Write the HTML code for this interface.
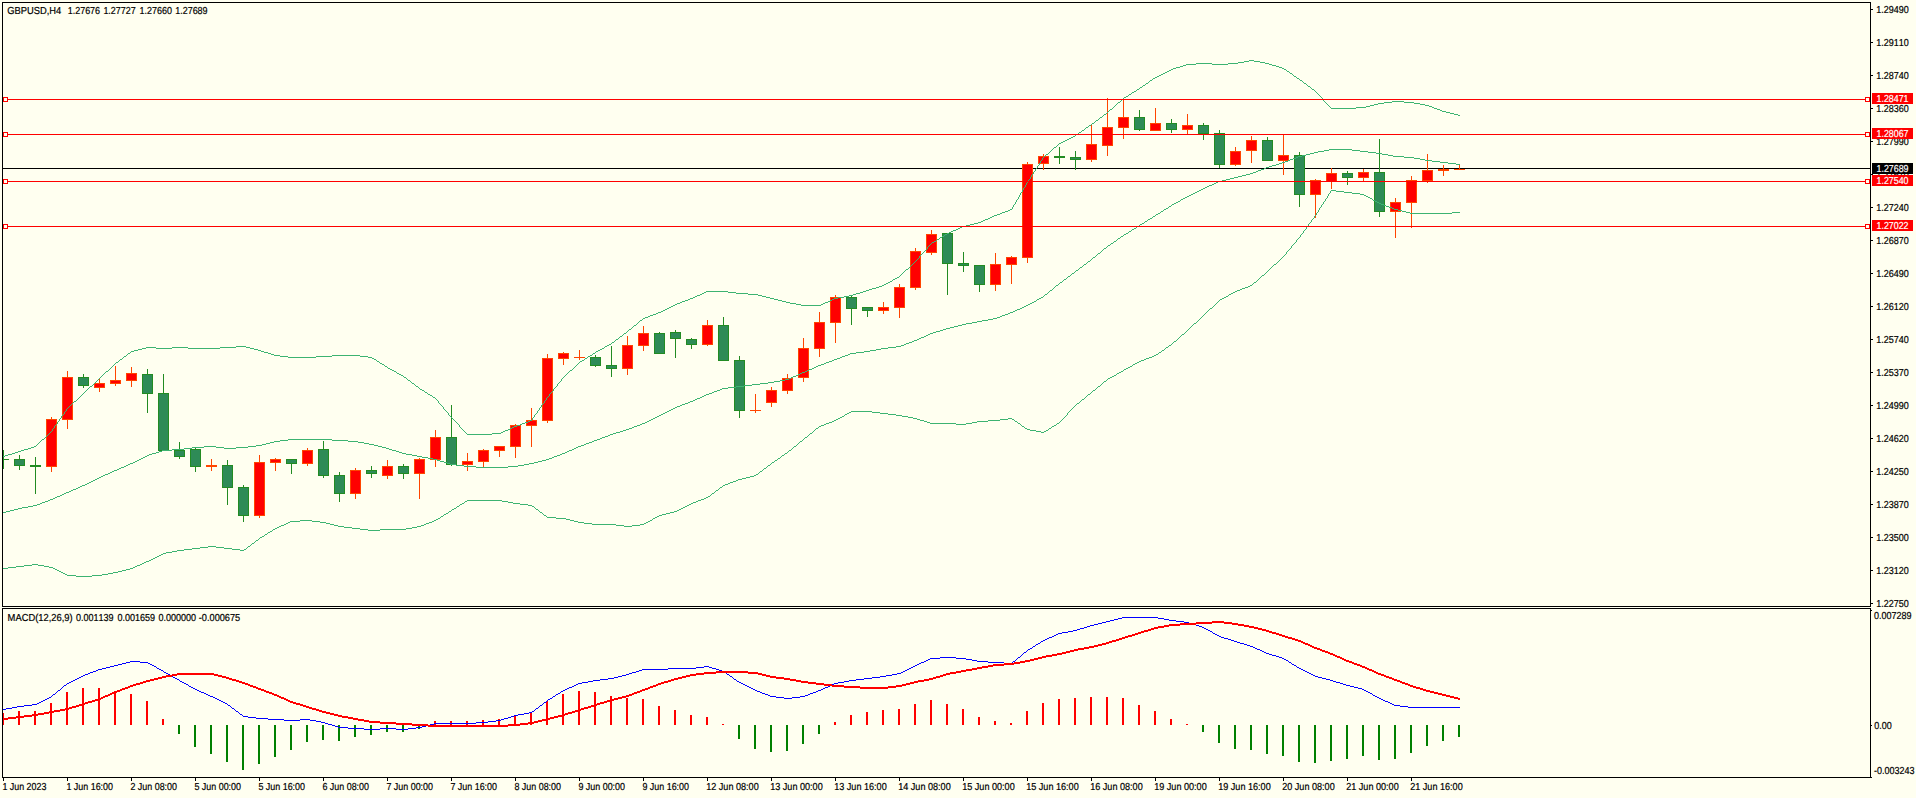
<!DOCTYPE html>
<html><head><meta charset="utf-8"><title>GBPUSD,H4</title>
<style>html,body{margin:0;padding:0;background:#FFFFF0;overflow:hidden}svg text{font-kerning:none;text-rendering:geometricPrecision}</style></head>
<body>
<svg width="1916" height="798" viewBox="0 0 1916 798" style="display:block;font-family:'Liberation Sans', Arial, sans-serif;font-size:10.1px">
<rect width="1916" height="798" fill="#FFFFF0"/>
<g shape-rendering="crispEdges">
<rect x="2" y="2" width="1869" height="1" fill="#000"/>
<rect x="2" y="2" width="1" height="605" fill="#000"/>
<rect x="2" y="606" width="1869" height="1" fill="#000"/>
<rect x="1870" y="2" width="1" height="605" fill="#000"/>
<rect x="1870" y="608" width="1" height="170" fill="#000"/>
<rect x="2" y="608" width="1869" height="1" fill="#000"/>
<rect x="2" y="608" width="1" height="170" fill="#000"/>
<rect x="2" y="777" width="1870" height="1" fill="#000"/>
<rect x="1871" y="9" width="2" height="1" fill="#000"/>
<rect x="1871" y="42" width="2" height="1" fill="#000"/>
<rect x="1871" y="75" width="2" height="1" fill="#000"/>
<rect x="1871" y="108" width="2" height="1" fill="#000"/>
<rect x="1871" y="141" width="2" height="1" fill="#000"/>
<rect x="1871" y="174" width="2" height="1" fill="#000"/>
<rect x="1871" y="207" width="2" height="1" fill="#000"/>
<rect x="1871" y="240" width="2" height="1" fill="#000"/>
<rect x="1871" y="273" width="2" height="1" fill="#000"/>
<rect x="1871" y="306" width="2" height="1" fill="#000"/>
<rect x="1871" y="339" width="2" height="1" fill="#000"/>
<rect x="1871" y="372" width="2" height="1" fill="#000"/>
<rect x="1871" y="405" width="2" height="1" fill="#000"/>
<rect x="1871" y="438" width="2" height="1" fill="#000"/>
<rect x="1871" y="471" width="2" height="1" fill="#000"/>
<rect x="1871" y="504" width="2" height="1" fill="#000"/>
<rect x="1871" y="537" width="2" height="1" fill="#000"/>
<rect x="1871" y="570" width="2" height="1" fill="#000"/>
<rect x="1871" y="603" width="2" height="1" fill="#000"/>
<rect x="1871" y="610" width="1" height="1" fill="#000"/>
<rect x="1871" y="725" width="1" height="1" fill="#000"/>
<rect x="3" y="778" width="1" height="3" fill="#000"/>
<rect x="67" y="778" width="1" height="3" fill="#000"/>
<rect x="131" y="778" width="1" height="3" fill="#000"/>
<rect x="195" y="778" width="1" height="3" fill="#000"/>
<rect x="259" y="778" width="1" height="3" fill="#000"/>
<rect x="323" y="778" width="1" height="3" fill="#000"/>
<rect x="387" y="778" width="1" height="3" fill="#000"/>
<rect x="451" y="778" width="1" height="3" fill="#000"/>
<rect x="515" y="778" width="1" height="3" fill="#000"/>
<rect x="579" y="778" width="1" height="3" fill="#000"/>
<rect x="643" y="778" width="1" height="3" fill="#000"/>
<rect x="707" y="778" width="1" height="3" fill="#000"/>
<rect x="771" y="778" width="1" height="3" fill="#000"/>
<rect x="835" y="778" width="1" height="3" fill="#000"/>
<rect x="899" y="778" width="1" height="3" fill="#000"/>
<rect x="963" y="778" width="1" height="3" fill="#000"/>
<rect x="1027" y="778" width="1" height="3" fill="#000"/>
<rect x="1091" y="778" width="1" height="3" fill="#000"/>
<rect x="1155" y="778" width="1" height="3" fill="#000"/>
<rect x="1219" y="778" width="1" height="3" fill="#000"/>
<rect x="1283" y="778" width="1" height="3" fill="#000"/>
<rect x="1347" y="778" width="1" height="3" fill="#000"/>
<rect x="1411" y="778" width="1" height="3" fill="#000"/>
<rect x="3" y="168" width="1867" height="1" fill="#000"/>
</g>
<g shape-rendering="crispEdges">
<rect x="3" y="450" width="1" height="19" fill="#228B22"/>
<rect x="3" y="459" width="6" height="1" fill="#228B22"/>
<rect x="19" y="455" width="1" height="15" fill="#228B22"/>
<rect x="14" y="459" width="11" height="7" fill="#228B22"/>
<rect x="15" y="460" width="9" height="5" fill="#2E8B57"/>
<rect x="35" y="457" width="1" height="37" fill="#228B22"/>
<rect x="30" y="465" width="11" height="2" fill="#228B22"/>
<rect x="51" y="417" width="1" height="55" fill="#FF4500"/>
<rect x="46" y="419" width="11" height="48" fill="#FF4500"/>
<rect x="47" y="420" width="9" height="46" fill="#FF0000"/>
<rect x="67" y="371" width="1" height="58" fill="#FF4500"/>
<rect x="62" y="377" width="11" height="43" fill="#FF4500"/>
<rect x="63" y="378" width="9" height="41" fill="#FF0000"/>
<rect x="83" y="374" width="1" height="14" fill="#228B22"/>
<rect x="78" y="377" width="11" height="9" fill="#228B22"/>
<rect x="79" y="378" width="9" height="7" fill="#2E8B57"/>
<rect x="99" y="378" width="1" height="14" fill="#FF4500"/>
<rect x="94" y="383" width="11" height="5" fill="#FF4500"/>
<rect x="95" y="384" width="9" height="3" fill="#FF0000"/>
<rect x="115" y="366" width="1" height="20" fill="#FF4500"/>
<rect x="110" y="380" width="11" height="4" fill="#FF4500"/>
<rect x="111" y="381" width="9" height="2" fill="#FF0000"/>
<rect x="131" y="367" width="1" height="20" fill="#FF4500"/>
<rect x="126" y="373" width="11" height="8" fill="#FF4500"/>
<rect x="127" y="374" width="9" height="6" fill="#FF0000"/>
<rect x="147" y="369" width="1" height="44" fill="#228B22"/>
<rect x="142" y="374" width="11" height="20" fill="#228B22"/>
<rect x="143" y="375" width="9" height="18" fill="#2E8B57"/>
<rect x="163" y="374" width="1" height="77" fill="#228B22"/>
<rect x="158" y="393" width="11" height="58" fill="#228B22"/>
<rect x="159" y="394" width="9" height="56" fill="#2E8B57"/>
<rect x="179" y="442" width="1" height="17" fill="#228B22"/>
<rect x="174" y="450" width="11" height="7" fill="#228B22"/>
<rect x="175" y="451" width="9" height="5" fill="#2E8B57"/>
<rect x="195" y="448" width="1" height="24" fill="#228B22"/>
<rect x="190" y="449" width="11" height="18" fill="#228B22"/>
<rect x="191" y="450" width="9" height="16" fill="#2E8B57"/>
<rect x="211" y="459" width="1" height="12" fill="#FF4500"/>
<rect x="206" y="465" width="11" height="2" fill="#FF4500"/>
<rect x="227" y="460" width="1" height="45" fill="#228B22"/>
<rect x="222" y="465" width="11" height="23" fill="#228B22"/>
<rect x="223" y="466" width="9" height="21" fill="#2E8B57"/>
<rect x="243" y="485" width="1" height="37" fill="#228B22"/>
<rect x="238" y="487" width="11" height="29" fill="#228B22"/>
<rect x="239" y="488" width="9" height="27" fill="#2E8B57"/>
<rect x="259" y="455" width="1" height="63" fill="#FF4500"/>
<rect x="254" y="462" width="11" height="54" fill="#FF4500"/>
<rect x="255" y="463" width="9" height="52" fill="#FF0000"/>
<rect x="275" y="458" width="1" height="13" fill="#FF4500"/>
<rect x="270" y="459" width="11" height="4" fill="#FF4500"/>
<rect x="271" y="460" width="9" height="2" fill="#FF0000"/>
<rect x="291" y="459" width="1" height="15" fill="#228B22"/>
<rect x="286" y="459" width="11" height="5" fill="#228B22"/>
<rect x="287" y="460" width="9" height="3" fill="#2E8B57"/>
<rect x="307" y="448" width="1" height="18" fill="#FF4500"/>
<rect x="302" y="450" width="11" height="14" fill="#FF4500"/>
<rect x="303" y="451" width="9" height="12" fill="#FF0000"/>
<rect x="323" y="441" width="1" height="37" fill="#228B22"/>
<rect x="318" y="449" width="11" height="27" fill="#228B22"/>
<rect x="319" y="450" width="9" height="25" fill="#2E8B57"/>
<rect x="339" y="472" width="1" height="30" fill="#228B22"/>
<rect x="334" y="475" width="11" height="19" fill="#228B22"/>
<rect x="335" y="476" width="9" height="17" fill="#2E8B57"/>
<rect x="355" y="468" width="1" height="31" fill="#FF4500"/>
<rect x="350" y="470" width="11" height="24" fill="#FF4500"/>
<rect x="351" y="471" width="9" height="22" fill="#FF0000"/>
<rect x="371" y="466" width="1" height="12" fill="#228B22"/>
<rect x="366" y="470" width="11" height="4" fill="#228B22"/>
<rect x="367" y="471" width="9" height="2" fill="#2E8B57"/>
<rect x="387" y="460" width="1" height="19" fill="#FF4500"/>
<rect x="382" y="466" width="11" height="10" fill="#FF4500"/>
<rect x="383" y="467" width="9" height="8" fill="#FF0000"/>
<rect x="403" y="464" width="1" height="15" fill="#228B22"/>
<rect x="398" y="466" width="11" height="8" fill="#228B22"/>
<rect x="399" y="467" width="9" height="6" fill="#2E8B57"/>
<rect x="419" y="458" width="1" height="41" fill="#FF4500"/>
<rect x="414" y="459" width="11" height="15" fill="#FF4500"/>
<rect x="415" y="460" width="9" height="13" fill="#FF0000"/>
<rect x="435" y="430" width="1" height="37" fill="#FF4500"/>
<rect x="430" y="437" width="11" height="23" fill="#FF4500"/>
<rect x="431" y="438" width="9" height="21" fill="#FF0000"/>
<rect x="451" y="405" width="1" height="61" fill="#228B22"/>
<rect x="446" y="437" width="11" height="28" fill="#228B22"/>
<rect x="447" y="438" width="9" height="26" fill="#2E8B57"/>
<rect x="467" y="453" width="1" height="18" fill="#FF4500"/>
<rect x="462" y="461" width="11" height="4" fill="#FF4500"/>
<rect x="463" y="462" width="9" height="2" fill="#FF0000"/>
<rect x="483" y="449" width="1" height="18" fill="#FF4500"/>
<rect x="478" y="450" width="11" height="12" fill="#FF4500"/>
<rect x="479" y="451" width="9" height="10" fill="#FF0000"/>
<rect x="499" y="446" width="1" height="11" fill="#FF4500"/>
<rect x="494" y="446" width="11" height="5" fill="#FF4500"/>
<rect x="495" y="447" width="9" height="3" fill="#FF0000"/>
<rect x="515" y="424" width="1" height="34" fill="#FF4500"/>
<rect x="510" y="425" width="11" height="22" fill="#FF4500"/>
<rect x="511" y="426" width="9" height="20" fill="#FF0000"/>
<rect x="531" y="408" width="1" height="39" fill="#FF4500"/>
<rect x="526" y="420" width="11" height="6" fill="#FF4500"/>
<rect x="527" y="421" width="9" height="4" fill="#FF0000"/>
<rect x="547" y="354" width="1" height="69" fill="#FF4500"/>
<rect x="542" y="358" width="11" height="63" fill="#FF4500"/>
<rect x="543" y="359" width="9" height="61" fill="#FF0000"/>
<rect x="563" y="352" width="1" height="13" fill="#FF4500"/>
<rect x="558" y="353" width="11" height="6" fill="#FF4500"/>
<rect x="559" y="354" width="9" height="4" fill="#FF0000"/>
<rect x="579" y="350" width="1" height="10" fill="#FF4500"/>
<rect x="574" y="357" width="11" height="1" fill="#FF4500"/>
<rect x="595" y="355" width="1" height="12" fill="#228B22"/>
<rect x="590" y="357" width="11" height="9" fill="#228B22"/>
<rect x="591" y="358" width="9" height="7" fill="#2E8B57"/>
<rect x="611" y="346" width="1" height="31" fill="#228B22"/>
<rect x="606" y="365" width="11" height="4" fill="#228B22"/>
<rect x="607" y="366" width="9" height="2" fill="#2E8B57"/>
<rect x="627" y="336" width="1" height="39" fill="#FF4500"/>
<rect x="622" y="345" width="11" height="24" fill="#FF4500"/>
<rect x="623" y="346" width="9" height="22" fill="#FF0000"/>
<rect x="643" y="326" width="1" height="25" fill="#FF4500"/>
<rect x="638" y="333" width="11" height="13" fill="#FF4500"/>
<rect x="639" y="334" width="9" height="11" fill="#FF0000"/>
<rect x="659" y="332" width="1" height="22" fill="#228B22"/>
<rect x="654" y="333" width="11" height="21" fill="#228B22"/>
<rect x="655" y="334" width="9" height="19" fill="#2E8B57"/>
<rect x="675" y="330" width="1" height="28" fill="#228B22"/>
<rect x="670" y="332" width="11" height="7" fill="#228B22"/>
<rect x="671" y="333" width="9" height="5" fill="#2E8B57"/>
<rect x="691" y="338" width="1" height="11" fill="#228B22"/>
<rect x="686" y="339" width="11" height="6" fill="#228B22"/>
<rect x="687" y="340" width="9" height="4" fill="#2E8B57"/>
<rect x="707" y="320" width="1" height="26" fill="#FF4500"/>
<rect x="702" y="325" width="11" height="20" fill="#FF4500"/>
<rect x="703" y="326" width="9" height="18" fill="#FF0000"/>
<rect x="723" y="317" width="1" height="44" fill="#228B22"/>
<rect x="718" y="325" width="11" height="36" fill="#228B22"/>
<rect x="719" y="326" width="9" height="34" fill="#2E8B57"/>
<rect x="739" y="356" width="1" height="62" fill="#228B22"/>
<rect x="734" y="360" width="11" height="51" fill="#228B22"/>
<rect x="735" y="361" width="9" height="49" fill="#2E8B57"/>
<rect x="755" y="394" width="1" height="19" fill="#FF4500"/>
<rect x="750" y="410" width="11" height="1" fill="#FF4500"/>
<rect x="771" y="387" width="1" height="20" fill="#FF4500"/>
<rect x="766" y="390" width="11" height="13" fill="#FF4500"/>
<rect x="767" y="391" width="9" height="11" fill="#FF0000"/>
<rect x="787" y="374" width="1" height="20" fill="#FF4500"/>
<rect x="782" y="378" width="11" height="13" fill="#FF4500"/>
<rect x="783" y="379" width="9" height="11" fill="#FF0000"/>
<rect x="803" y="338" width="1" height="44" fill="#FF4500"/>
<rect x="798" y="348" width="11" height="30" fill="#FF4500"/>
<rect x="799" y="349" width="9" height="28" fill="#FF0000"/>
<rect x="819" y="312" width="1" height="45" fill="#FF4500"/>
<rect x="814" y="322" width="11" height="27" fill="#FF4500"/>
<rect x="815" y="323" width="9" height="25" fill="#FF0000"/>
<rect x="835" y="295" width="1" height="48" fill="#FF4500"/>
<rect x="830" y="297" width="11" height="26" fill="#FF4500"/>
<rect x="831" y="298" width="9" height="24" fill="#FF0000"/>
<rect x="851" y="296" width="1" height="29" fill="#228B22"/>
<rect x="846" y="297" width="11" height="12" fill="#228B22"/>
<rect x="847" y="298" width="9" height="10" fill="#2E8B57"/>
<rect x="867" y="307" width="1" height="10" fill="#228B22"/>
<rect x="862" y="307" width="11" height="4" fill="#228B22"/>
<rect x="863" y="308" width="9" height="2" fill="#2E8B57"/>
<rect x="883" y="302" width="1" height="12" fill="#FF4500"/>
<rect x="878" y="307" width="11" height="4" fill="#FF4500"/>
<rect x="879" y="308" width="9" height="2" fill="#FF0000"/>
<rect x="899" y="284" width="1" height="34" fill="#FF4500"/>
<rect x="894" y="287" width="11" height="21" fill="#FF4500"/>
<rect x="895" y="288" width="9" height="19" fill="#FF0000"/>
<rect x="915" y="248" width="1" height="42" fill="#FF4500"/>
<rect x="910" y="251" width="11" height="37" fill="#FF4500"/>
<rect x="911" y="252" width="9" height="35" fill="#FF0000"/>
<rect x="931" y="230" width="1" height="25" fill="#FF4500"/>
<rect x="926" y="234" width="11" height="19" fill="#FF4500"/>
<rect x="927" y="235" width="9" height="17" fill="#FF0000"/>
<rect x="947" y="233" width="1" height="62" fill="#228B22"/>
<rect x="942" y="233" width="11" height="31" fill="#228B22"/>
<rect x="943" y="234" width="9" height="29" fill="#2E8B57"/>
<rect x="963" y="252" width="1" height="20" fill="#228B22"/>
<rect x="958" y="263" width="11" height="3" fill="#228B22"/>
<rect x="959" y="264" width="9" height="1" fill="#2E8B57"/>
<rect x="979" y="265" width="1" height="27" fill="#228B22"/>
<rect x="974" y="265" width="11" height="20" fill="#228B22"/>
<rect x="975" y="266" width="9" height="18" fill="#2E8B57"/>
<rect x="995" y="253" width="1" height="38" fill="#FF4500"/>
<rect x="990" y="264" width="11" height="21" fill="#FF4500"/>
<rect x="991" y="265" width="9" height="19" fill="#FF0000"/>
<rect x="1011" y="256" width="1" height="28" fill="#FF4500"/>
<rect x="1006" y="257" width="11" height="8" fill="#FF4500"/>
<rect x="1007" y="258" width="9" height="6" fill="#FF0000"/>
<rect x="1027" y="162" width="1" height="101" fill="#FF4500"/>
<rect x="1022" y="164" width="11" height="94" fill="#FF4500"/>
<rect x="1023" y="165" width="9" height="92" fill="#FF0000"/>
<rect x="1043" y="154" width="1" height="16" fill="#FF4500"/>
<rect x="1038" y="156" width="11" height="8" fill="#FF4500"/>
<rect x="1039" y="157" width="9" height="6" fill="#FF0000"/>
<rect x="1059" y="147" width="1" height="17" fill="#228B22"/>
<rect x="1054" y="156" width="11" height="2" fill="#228B22"/>
<rect x="1075" y="151" width="1" height="19" fill="#228B22"/>
<rect x="1070" y="157" width="11" height="3" fill="#228B22"/>
<rect x="1071" y="158" width="9" height="1" fill="#2E8B57"/>
<rect x="1091" y="125" width="1" height="37" fill="#FF4500"/>
<rect x="1086" y="144" width="11" height="16" fill="#FF4500"/>
<rect x="1087" y="145" width="9" height="14" fill="#FF0000"/>
<rect x="1107" y="98" width="1" height="58" fill="#FF4500"/>
<rect x="1102" y="127" width="11" height="19" fill="#FF4500"/>
<rect x="1103" y="128" width="9" height="17" fill="#FF0000"/>
<rect x="1123" y="100" width="1" height="39" fill="#FF4500"/>
<rect x="1118" y="117" width="11" height="11" fill="#FF4500"/>
<rect x="1119" y="118" width="9" height="9" fill="#FF0000"/>
<rect x="1139" y="110" width="1" height="21" fill="#228B22"/>
<rect x="1134" y="117" width="11" height="13" fill="#228B22"/>
<rect x="1135" y="118" width="9" height="11" fill="#2E8B57"/>
<rect x="1155" y="108" width="1" height="23" fill="#FF4500"/>
<rect x="1150" y="123" width="11" height="8" fill="#FF4500"/>
<rect x="1151" y="124" width="9" height="6" fill="#FF0000"/>
<rect x="1171" y="119" width="1" height="14" fill="#228B22"/>
<rect x="1166" y="123" width="11" height="7" fill="#228B22"/>
<rect x="1167" y="124" width="9" height="5" fill="#2E8B57"/>
<rect x="1187" y="114" width="1" height="20" fill="#FF4500"/>
<rect x="1182" y="125" width="11" height="5" fill="#FF4500"/>
<rect x="1183" y="126" width="9" height="3" fill="#FF0000"/>
<rect x="1203" y="123" width="1" height="17" fill="#228B22"/>
<rect x="1198" y="125" width="11" height="9" fill="#228B22"/>
<rect x="1199" y="126" width="9" height="7" fill="#2E8B57"/>
<rect x="1219" y="130" width="1" height="38" fill="#228B22"/>
<rect x="1214" y="133" width="11" height="32" fill="#228B22"/>
<rect x="1215" y="134" width="9" height="30" fill="#2E8B57"/>
<rect x="1235" y="147" width="1" height="19" fill="#FF4500"/>
<rect x="1230" y="151" width="11" height="14" fill="#FF4500"/>
<rect x="1231" y="152" width="9" height="12" fill="#FF0000"/>
<rect x="1251" y="136" width="1" height="27" fill="#FF4500"/>
<rect x="1246" y="140" width="11" height="11" fill="#FF4500"/>
<rect x="1247" y="141" width="9" height="9" fill="#FF0000"/>
<rect x="1267" y="137" width="1" height="24" fill="#228B22"/>
<rect x="1262" y="140" width="11" height="21" fill="#228B22"/>
<rect x="1263" y="141" width="9" height="19" fill="#2E8B57"/>
<rect x="1283" y="135" width="1" height="40" fill="#FF4500"/>
<rect x="1278" y="155" width="11" height="6" fill="#FF4500"/>
<rect x="1279" y="156" width="9" height="4" fill="#FF0000"/>
<rect x="1299" y="152" width="1" height="55" fill="#228B22"/>
<rect x="1294" y="155" width="11" height="40" fill="#228B22"/>
<rect x="1295" y="156" width="9" height="38" fill="#2E8B57"/>
<rect x="1315" y="179" width="1" height="39" fill="#FF4500"/>
<rect x="1310" y="180" width="11" height="15" fill="#FF4500"/>
<rect x="1311" y="181" width="9" height="13" fill="#FF0000"/>
<rect x="1331" y="168" width="1" height="21" fill="#FF4500"/>
<rect x="1326" y="173" width="11" height="9" fill="#FF4500"/>
<rect x="1327" y="174" width="9" height="7" fill="#FF0000"/>
<rect x="1347" y="171" width="1" height="14" fill="#228B22"/>
<rect x="1342" y="173" width="11" height="5" fill="#228B22"/>
<rect x="1343" y="174" width="9" height="3" fill="#2E8B57"/>
<rect x="1363" y="169" width="1" height="12" fill="#FF4500"/>
<rect x="1358" y="172" width="11" height="6" fill="#FF4500"/>
<rect x="1359" y="173" width="9" height="4" fill="#FF0000"/>
<rect x="1379" y="139" width="1" height="78" fill="#228B22"/>
<rect x="1374" y="172" width="11" height="40" fill="#228B22"/>
<rect x="1375" y="173" width="9" height="38" fill="#2E8B57"/>
<rect x="1395" y="198" width="1" height="40" fill="#FF4500"/>
<rect x="1390" y="202" width="11" height="10" fill="#FF4500"/>
<rect x="1391" y="203" width="9" height="8" fill="#FF0000"/>
<rect x="1411" y="176" width="1" height="52" fill="#FF4500"/>
<rect x="1406" y="180" width="11" height="23" fill="#FF4500"/>
<rect x="1407" y="181" width="9" height="21" fill="#FF0000"/>
<rect x="1427" y="154" width="1" height="29" fill="#FF4500"/>
<rect x="1422" y="170" width="11" height="11" fill="#FF4500"/>
<rect x="1423" y="171" width="9" height="9" fill="#FF0000"/>
<rect x="1443" y="165" width="1" height="11" fill="#FF4500"/>
<rect x="1438" y="169" width="11" height="2" fill="#FF4500"/>
<rect x="1459" y="164" width="1" height="6" fill="#FF4500"/>
<rect x="1454" y="169" width="11" height="1" fill="#FF4500"/>
</g>
<path d="M1249 60.5h5M1244 61.5h5M1254 61.5h6M1238 62.5h6M1260 62.5h5M1196 63.5h16M1228 63.5h10M1265 63.5h4M1186 64.5h10M1212 64.5h16M1269 64.5h3M1183 65.5h3M1272 65.5h4M1180 66.5h3M1276 66.5h3M1176 67.5h4M1279 67.5h3M1173 68.5h3M1282 68.5h2M1171 69.5h2M1284 69.5h2M1169 70.5h2M1286 70.5h1M1167 71.5h2M1287 71.5h2M1165 72.5h2M1289 72.5h1M1163 73.5h2M1290 73.5h2M1161 74.5h2M1292 74.5h1M1159 75.5h2M1293 75.5h1M1157 76.5h2M1294 76.5h2M1155 77.5h2M1296 77.5h1M1153 78.5h2M1297 78.5h2M1152 79.5h1M1299 79.5h1M1150 80.5h2M1300 80.5h2M1149 81.5h1M1302 81.5h1M1148 82.5h1M1303 82.5h1M1146 83.5h2M1304 83.5h2M1145 84.5h1M1306 84.5h1M1143 85.5h2M1307 85.5h1M1142 86.5h1M1308 86.5h2M1140 87.5h2M1310 87.5h1M1139 88.5h1M1311 88.5h1M1137 89.5h2M1312 89.5h2M1136 90.5h1M1314 90.5h1M1134 91.5h2M1315 91.5h1M1132 92.5h2M1316 92.5h1M1131 93.5h1M1317 93.5h1M1129 94.5h2M1318 94.5h1M1128 95.5h1M1319 95.5h1M1126 96.5h2M1320 96.5h1M1124 97.5h2M1321 97.5h1M1123 98.5h1M1322 98.5h1M1122 99.5h1M1323 99.5h1M1121 100.5h1M1323 100.5h1M1120 101.5h1M1324 101.5h1M1392 101.5h12M1118 102.5h2M1325 102.5h1M1384 102.5h8M1404 102.5h10M1117 103.5h1M1326 103.5h1M1378 103.5h6M1414 103.5h6M1116 104.5h1M1327 104.5h1M1374 104.5h4M1420 104.5h5M1115 105.5h1M1328 105.5h1M1370 105.5h4M1425 105.5h4M1114 106.5h1M1329 106.5h1M1366 106.5h4M1429 106.5h3M1113 107.5h1M1330 107.5h1M1356 107.5h10M1432 107.5h2M1112 108.5h1M1331 108.5h25M1434 108.5h3M1110 109.5h2M1437 109.5h3M1109 110.5h1M1440 110.5h2M1108 111.5h1M1442 111.5h4M1107 112.5h1M1446 112.5h4M1106 113.5h1M1450 113.5h4M1104 114.5h2M1454 114.5h4M1103 115.5h1M1458 115.5h2M1102 116.5h1M1100 117.5h2M1099 118.5h1M1098 119.5h1M1096 120.5h2M1095 121.5h1M1094 122.5h1M1092 123.5h2M1091 124.5h1M1089 125.5h2M1088 126.5h1M1086 127.5h2M1085 128.5h1M1084 129.5h1M1082 130.5h2M1081 131.5h1M1079 132.5h2M1078 133.5h1M1076 134.5h2M1075 135.5h1M1073 136.5h2M1071 137.5h2M1069 138.5h2M1067 139.5h2M1065 140.5h2M1063 141.5h2M1061 142.5h2M1059 143.5h2M1058 144.5h1M1057 145.5h1M1056 146.5h1M1054 147.5h2M1053 148.5h1M1052 149.5h1M1051 150.5h1M1050 151.5h1M1049 152.5h1M1048 153.5h1M1046 154.5h2M1045 155.5h1M1044 156.5h1M1043 157.5h1M1042 158.5h1M1042 159.5h1M1041 160.5h1M1040 161.5h1M1040 162.5h1M1039 163.5h1M1039 164.5h1M1038 165.5h1M1037 166.5h1M1037 167.5h1M1036 168.5h1M1035 169.5h1M1035 170.5h1M1034 171.5h1M1033 172.5h1M1033 173.5h1M1032 174.5h1M1031 175.5h1M1031 176.5h1M1030 177.5h1M1030 178.5h1M1029 179.5h1M1028 180.5h1M1028 181.5h1M1027 182.5h1M1026 183.5h1M1026 184.5h1M1025 185.5h1M1025 186.5h1M1024 187.5h1M1023 188.5h1M1023 189.5h1M1022 190.5h1M1022 191.5h1M1021 192.5h1M1020 193.5h1M1020 194.5h1M1019 195.5h1M1019 196.5h1M1018 197.5h1M1018 198.5h1M1017 199.5h1M1016 200.5h1M1016 201.5h1M1015 202.5h1M1015 203.5h1M1014 204.5h1M1013 205.5h1M1013 206.5h1M1012 207.5h1M1012 208.5h1M1010 209.5h2M1008 210.5h2M1005 211.5h3M1002 212.5h3M1000 213.5h2M997 214.5h3M994 215.5h3M992 216.5h2M990 217.5h2M988 218.5h2M985 219.5h3M983 220.5h2M981 221.5h2M978 222.5h3M974 223.5h4M970 224.5h4M966 225.5h4M962 226.5h4M960 227.5h2M958 228.5h2M956 229.5h2M953 230.5h3M951 231.5h2M949 232.5h2M947 233.5h2M945 234.5h2M944 235.5h1M942 236.5h2M940 237.5h2M939 238.5h1M937 239.5h2M936 240.5h1M934 241.5h2M932 242.5h2M931 243.5h1M930 244.5h1M929 245.5h1M928 246.5h1M927 247.5h1M927 248.5h1M926 249.5h1M925 250.5h1M924 251.5h1M923 252.5h1M922 253.5h1M921 254.5h1M920 255.5h1M919 256.5h1M919 257.5h1M918 258.5h1M917 259.5h1M916 260.5h1M915 261.5h1M914 262.5h1M913 263.5h1M912 264.5h1M911 265.5h1M910 266.5h1M909 267.5h1M908 268.5h1M906 269.5h2M905 270.5h1M904 271.5h1M903 272.5h1M902 273.5h1M901 274.5h1M900 275.5h1M899 276.5h1M897 277.5h2M895 278.5h2M893 279.5h2M892 280.5h1M890 281.5h2M888 282.5h2M886 283.5h2M884 284.5h2M882 285.5h2M879 286.5h3M876 287.5h3M872 288.5h4M869 289.5h3M866 290.5h3M706 291.5h22M863 291.5h3M704 292.5h2M728 292.5h8M860 292.5h3M702 293.5h2M736 293.5h12M856 293.5h4M700 294.5h2M748 294.5h10M853 294.5h3M697 295.5h3M758 295.5h4M849 295.5h4M695 296.5h2M762 296.5h4M844 296.5h5M693 297.5h2M766 297.5h4M838 297.5h6M690 298.5h3M770 298.5h4M834 298.5h4M688 299.5h2M774 299.5h4M832 299.5h2M685 300.5h3M778 300.5h4M830 300.5h2M682 301.5h3M782 301.5h4M828 301.5h2M680 302.5h2M786 302.5h4M825 302.5h3M677 303.5h3M790 303.5h6M823 303.5h2M675 304.5h2M796 304.5h5M821 304.5h2M673 305.5h2M801 305.5h20M671 306.5h2M669 307.5h2M667 308.5h2M665 309.5h2M663 310.5h2M661 311.5h2M658 312.5h3M656 313.5h2M653 314.5h3M650 315.5h3M648 316.5h2M645 317.5h3M643 318.5h2M642 319.5h1M640 320.5h2M639 321.5h1M638 322.5h1M637 323.5h1M636 324.5h1M634 325.5h2M633 326.5h1M632 327.5h1M631 328.5h1M629 329.5h2M628 330.5h1M627 331.5h1M626 332.5h1M624 333.5h2M623 334.5h1M622 335.5h1M620 336.5h2M619 337.5h1M618 338.5h1M616 339.5h2M615 340.5h1M614 341.5h1M612 342.5h2M611 343.5h1M609 344.5h2M607 345.5h2M236 346.5h10M605 346.5h2M146 347.5h10M172 347.5h16M220 347.5h16M246 347.5h4M604 347.5h1M142 348.5h4M156 348.5h16M188 348.5h32M250 348.5h4M602 348.5h2M138 349.5h4M254 349.5h4M600 349.5h2M134 350.5h4M258 350.5h3M598 350.5h2M131 351.5h3M261 351.5h3M596 351.5h2M130 352.5h1M264 352.5h4M595 352.5h1M128 353.5h2M268 353.5h3M593 353.5h2M127 354.5h1M271 354.5h3M592 354.5h1M126 355.5h1M274 355.5h6M332 355.5h28M590 355.5h2M124 356.5h2M280 356.5h8M316 356.5h16M360 356.5h8M588 356.5h2M123 357.5h1M288 357.5h28M368 357.5h4M587 357.5h1M122 358.5h1M372 358.5h2M585 358.5h2M120 359.5h2M374 359.5h2M584 359.5h1M119 360.5h1M376 360.5h1M582 360.5h2M118 361.5h1M377 361.5h2M580 361.5h2M116 362.5h2M379 362.5h1M579 362.5h1M115 363.5h1M380 363.5h2M578 363.5h1M114 364.5h1M382 364.5h2M577 364.5h1M113 365.5h1M384 365.5h1M576 365.5h1M112 366.5h1M385 366.5h2M575 366.5h1M111 367.5h1M387 367.5h1M574 367.5h1M110 368.5h1M388 368.5h2M573 368.5h1M109 369.5h1M390 369.5h2M572 369.5h1M108 370.5h1M392 370.5h2M570 370.5h2M106 371.5h2M394 371.5h2M569 371.5h1M105 372.5h1M396 372.5h1M568 372.5h1M104 373.5h1M397 373.5h2M567 373.5h1M103 374.5h1M399 374.5h2M566 374.5h1M102 375.5h1M401 375.5h2M565 375.5h1M101 376.5h1M403 376.5h1M564 376.5h1M100 377.5h1M404 377.5h2M563 377.5h1M99 378.5h1M406 378.5h1M562 378.5h1M98 379.5h1M407 379.5h1M561 379.5h1M97 380.5h1M408 380.5h2M561 380.5h1M96 381.5h1M410 381.5h1M560 381.5h1M95 382.5h1M411 382.5h1M559 382.5h1M94 383.5h1M412 383.5h2M558 383.5h1M93 384.5h1M414 384.5h1M557 384.5h1M92 385.5h1M415 385.5h1M557 385.5h1M90 386.5h2M416 386.5h2M556 386.5h1M89 387.5h1M418 387.5h1M555 387.5h1M88 388.5h1M419 388.5h1M554 388.5h1M87 389.5h1M420 389.5h2M553 389.5h1M86 390.5h1M422 390.5h2M553 390.5h1M85 391.5h1M424 391.5h1M552 391.5h1M84 392.5h1M425 392.5h2M551 392.5h1M83 393.5h1M427 393.5h1M550 393.5h1M82 394.5h1M428 394.5h2M549 394.5h1M81 395.5h1M430 395.5h2M549 395.5h1M80 396.5h1M432 396.5h1M548 396.5h1M79 397.5h1M433 397.5h2M547 397.5h1M78 398.5h1M435 398.5h1M546 398.5h1M77 399.5h1M436 399.5h1M546 399.5h1M76 400.5h1M437 400.5h1M545 400.5h1M74 401.5h2M438 401.5h1M544 401.5h1M73 402.5h1M438 402.5h1M544 402.5h1M72 403.5h1M439 403.5h1M543 403.5h1M71 404.5h1M440 404.5h1M542 404.5h1M70 405.5h1M441 405.5h1M541 405.5h1M69 406.5h1M442 406.5h1M541 406.5h1M68 407.5h1M443 407.5h1M540 407.5h1M67 408.5h1M443 408.5h1M539 408.5h1M66 409.5h1M444 409.5h1M539 409.5h1M66 410.5h1M445 410.5h1M538 410.5h1M65 411.5h1M446 411.5h1M537 411.5h1M64 412.5h1M447 412.5h1M537 412.5h1M64 413.5h1M448 413.5h1M536 413.5h1M63 414.5h1M448 414.5h1M535 414.5h1M62 415.5h1M449 415.5h1M534 415.5h1M61 416.5h1M450 416.5h1M534 416.5h1M61 417.5h1M451 417.5h1M533 417.5h1M60 418.5h1M452 418.5h1M532 418.5h1M59 419.5h1M453 419.5h1M532 419.5h1M59 420.5h1M454 420.5h1M530 420.5h2M58 421.5h1M455 421.5h1M528 421.5h2M57 422.5h1M456 422.5h1M525 422.5h3M57 423.5h1M457 423.5h1M522 423.5h3M56 424.5h1M458 424.5h1M520 424.5h2M55 425.5h1M459 425.5h1M517 425.5h3M54 426.5h1M459 426.5h1M514 426.5h3M54 427.5h1M460 427.5h1M512 427.5h2M53 428.5h1M461 428.5h1M510 428.5h2M52 429.5h1M462 429.5h1M508 429.5h2M52 430.5h1M463 430.5h1M505 430.5h3M51 431.5h1M464 431.5h1M503 431.5h2M50 432.5h1M465 432.5h1M501 432.5h2M49 433.5h1M466 433.5h1M492 433.5h9M48 434.5h1M467 434.5h25M47 435.5h1M46 436.5h1M45 437.5h1M44 438.5h1M42 439.5h2M41 440.5h1M40 441.5h1M39 442.5h1M38 443.5h1M37 444.5h1M36 445.5h1M34 446.5h2M31 447.5h3M28 448.5h3M24 449.5h4M21 450.5h3M18 451.5h3M15 452.5h3M12 453.5h3M8 454.5h4M5 455.5h3M3 456.5h2" fill="none" stroke="#3CB371" stroke-width="1" shape-rendering="crispEdges"/>
<path d="M1329 149.5h23M1324 150.5h5M1352 150.5h8M1318 151.5h6M1360 151.5h8M1314 152.5h4M1368 152.5h8M1310 153.5h4M1376 153.5h6M1306 154.5h4M1382 154.5h6M1302 155.5h4M1388 155.5h5M1298 156.5h4M1393 156.5h11M1296 157.5h2M1404 157.5h10M1293 158.5h3M1414 158.5h6M1290 159.5h3M1420 159.5h5M1288 160.5h2M1425 160.5h7M1285 161.5h3M1432 161.5h8M1282 162.5h3M1440 162.5h8M1279 163.5h3M1448 163.5h8M1276 164.5h3M1456 164.5h4M1272 165.5h4M1269 166.5h3M1266 167.5h3M1264 168.5h2M1261 169.5h3M1258 170.5h3M1256 171.5h2M1253 172.5h3M1250 173.5h3M1246 174.5h4M1242 175.5h4M1238 176.5h4M1234 177.5h4M1230 178.5h4M1226 179.5h4M1222 180.5h4M1218 181.5h4M1216 182.5h2M1214 183.5h2M1212 184.5h2M1209 185.5h3M1207 186.5h2M1205 187.5h2M1203 188.5h2M1201 189.5h2M1199 190.5h2M1197 191.5h2M1195 192.5h2M1193 193.5h2M1191 194.5h2M1189 195.5h2M1187 196.5h2M1185 197.5h2M1183 198.5h2M1181 199.5h2M1180 200.5h1M1178 201.5h2M1176 202.5h2M1174 203.5h2M1172 204.5h2M1171 205.5h1M1169 206.5h2M1168 207.5h1M1166 208.5h2M1164 209.5h2M1163 210.5h1M1161 211.5h2M1160 212.5h1M1158 213.5h2M1156 214.5h2M1155 215.5h1M1153 216.5h2M1152 217.5h1M1150 218.5h2M1148 219.5h2M1147 220.5h1M1145 221.5h2M1144 222.5h1M1142 223.5h2M1140 224.5h2M1139 225.5h1M1137 226.5h2M1136 227.5h1M1134 228.5h2M1132 229.5h2M1131 230.5h1M1129 231.5h2M1128 232.5h1M1126 233.5h2M1124 234.5h2M1123 235.5h1M1121 236.5h2M1120 237.5h1M1118 238.5h2M1117 239.5h1M1116 240.5h1M1114 241.5h2M1113 242.5h1M1111 243.5h2M1110 244.5h1M1108 245.5h2M1107 246.5h1M1106 247.5h1M1104 248.5h2M1103 249.5h1M1102 250.5h1M1101 251.5h1M1100 252.5h1M1098 253.5h2M1097 254.5h1M1096 255.5h1M1095 256.5h1M1093 257.5h2M1092 258.5h1M1091 259.5h1M1090 260.5h1M1088 261.5h2M1087 262.5h1M1086 263.5h1M1084 264.5h2M1083 265.5h1M1082 266.5h1M1080 267.5h2M1079 268.5h1M1078 269.5h1M1076 270.5h2M1075 271.5h1M1074 272.5h1M1072 273.5h2M1071 274.5h1M1070 275.5h1M1068 276.5h2M1067 277.5h1M1066 278.5h1M1064 279.5h2M1063 280.5h1M1062 281.5h1M1060 282.5h2M1059 283.5h1M1058 284.5h1M1056 285.5h2M1055 286.5h1M1054 287.5h1M1053 288.5h1M1052 289.5h1M1050 290.5h2M1049 291.5h1M1048 292.5h1M1047 293.5h1M1045 294.5h2M1044 295.5h1M1043 296.5h1M1041 297.5h2M1039 298.5h2M1037 299.5h2M1036 300.5h1M1034 301.5h2M1032 302.5h2M1030 303.5h2M1028 304.5h2M1026 305.5h2M1024 306.5h2M1022 307.5h2M1020 308.5h2M1017 309.5h3M1015 310.5h2M1013 311.5h2M1010 312.5h3M1008 313.5h2M1005 314.5h3M1002 315.5h3M1000 316.5h2M997 317.5h3M993 318.5h4M988 319.5h5M982 320.5h6M977 321.5h5M972 322.5h5M966 323.5h6M962 324.5h4M958 325.5h4M954 326.5h4M950 327.5h4M946 328.5h4M943 329.5h3M940 330.5h3M936 331.5h4M933 332.5h3M930 333.5h3M928 334.5h2M926 335.5h2M924 336.5h2M921 337.5h3M919 338.5h2M917 339.5h2M914 340.5h3M912 341.5h2M909 342.5h3M906 343.5h3M904 344.5h2M901 345.5h3M896 346.5h5M888 347.5h8M881 348.5h7M876 349.5h5M870 350.5h6M864 351.5h6M856 352.5h8M850 353.5h6M848 354.5h2M845 355.5h3M842 356.5h3M840 357.5h2M837 358.5h3M834 359.5h3M832 360.5h2M829 361.5h3M826 362.5h3M824 363.5h2M821 364.5h3M818 365.5h3M816 366.5h2M814 367.5h2M812 368.5h2M809 369.5h3M807 370.5h2M805 371.5h2M802 372.5h3M800 373.5h2M798 374.5h2M796 375.5h2M793 376.5h3M791 377.5h2M789 378.5h2M785 379.5h4M780 380.5h5M774 381.5h6M768 382.5h6M760 383.5h8M752 384.5h8M744 385.5h8M736 386.5h8M728 387.5h8M722 388.5h6M720 389.5h2M717 390.5h3M714 391.5h3M712 392.5h2M709 393.5h3M706 394.5h3M704 395.5h2M702 396.5h2M700 397.5h2M697 398.5h3M695 399.5h2M693 400.5h2M690 401.5h3M688 402.5h2M685 403.5h3M682 404.5h3M680 405.5h2M677 406.5h3M675 407.5h2M673 408.5h2M671 409.5h2M669 410.5h2M667 411.5h2M665 412.5h2M663 413.5h2M661 414.5h2M659 415.5h2M657 416.5h2M655 417.5h2M653 418.5h2M651 419.5h2M649 420.5h2M647 421.5h2M645 422.5h2M642 423.5h3M640 424.5h2M637 425.5h3M634 426.5h3M632 427.5h2M629 428.5h3M626 429.5h3M623 430.5h3M620 431.5h3M616 432.5h4M613 433.5h3M610 434.5h3M608 435.5h2M605 436.5h3M602 437.5h3M600 438.5h2M288 439.5h44M597 439.5h3M280 440.5h8M332 440.5h16M594 440.5h3M274 441.5h6M348 441.5h10M592 441.5h2M270 442.5h4M358 442.5h6M589 442.5h3M266 443.5h4M364 443.5h5M586 443.5h3M262 444.5h4M369 444.5h5M584 444.5h2M256 445.5h6M374 445.5h4M581 445.5h3M204 446.5h12M248 446.5h8M378 446.5h4M578 446.5h3M192 447.5h12M216 447.5h8M236 447.5h12M382 447.5h4M576 447.5h2M184 448.5h8M224 448.5h12M386 448.5h3M574 448.5h2M172 449.5h12M389 449.5h3M572 449.5h2M162 450.5h10M392 450.5h4M569 450.5h3M159 451.5h3M396 451.5h3M567 451.5h2M156 452.5h3M399 452.5h3M565 452.5h2M152 453.5h4M402 453.5h4M562 453.5h3M149 454.5h3M406 454.5h6M560 454.5h2M147 455.5h2M412 455.5h5M557 455.5h3M145 456.5h2M417 456.5h5M554 456.5h3M143 457.5h2M422 457.5h6M552 457.5h2M141 458.5h2M428 458.5h5M549 458.5h3M139 459.5h2M433 459.5h4M546 459.5h3M137 460.5h2M437 460.5h3M542 460.5h4M135 461.5h2M440 461.5h4M538 461.5h4M133 462.5h2M444 462.5h3M534 462.5h4M130 463.5h3M447 463.5h3M529 463.5h5M128 464.5h2M450 464.5h6M524 464.5h5M126 465.5h2M456 465.5h8M518 465.5h6M124 466.5h2M464 466.5h12M508 466.5h10M121 467.5h3M476 467.5h32M119 468.5h2M117 469.5h2M114 470.5h3M112 471.5h2M110 472.5h2M108 473.5h2M105 474.5h3M103 475.5h2M101 476.5h2M99 477.5h2M97 478.5h2M95 479.5h2M93 480.5h2M91 481.5h2M89 482.5h2M87 483.5h2M85 484.5h2M82 485.5h3M80 486.5h2M78 487.5h2M76 488.5h2M73 489.5h3M71 490.5h2M69 491.5h2M66 492.5h3M64 493.5h2M62 494.5h2M60 495.5h2M57 496.5h3M55 497.5h2M53 498.5h2M50 499.5h3M48 500.5h2M45 501.5h3M42 502.5h3M40 503.5h2M37 504.5h3M33 505.5h4M28 506.5h5M22 507.5h6M18 508.5h4M14 509.5h4M10 510.5h4M6 511.5h4M3 512.5h3" fill="none" stroke="#3CB371" stroke-width="1" shape-rendering="crispEdges"/>
<path d="M1331 190.5h5M1330 191.5h1M1336 191.5h8M1330 192.5h1M1344 192.5h8M1329 193.5h1M1352 193.5h8M1328 194.5h1M1360 194.5h4M1328 195.5h1M1364 195.5h2M1327 196.5h1M1366 196.5h2M1327 197.5h1M1368 197.5h2M1326 198.5h1M1370 198.5h2M1325 199.5h1M1372 199.5h1M1325 200.5h1M1373 200.5h2M1324 201.5h1M1375 201.5h2M1323 202.5h1M1377 202.5h2M1323 203.5h1M1379 203.5h2M1322 204.5h1M1381 204.5h3M1321 205.5h1M1384 205.5h2M1321 206.5h1M1386 206.5h3M1320 207.5h1M1389 207.5h3M1319 208.5h1M1392 208.5h2M1319 209.5h1M1394 209.5h4M1318 210.5h1M1398 210.5h4M1318 211.5h1M1402 211.5h4M1317 212.5h1M1406 212.5h4M1452 212.5h8M1316 213.5h1M1410 213.5h42M1316 214.5h1M1315 215.5h1M1314 216.5h1M1314 217.5h1M1313 218.5h1M1312 219.5h1M1311 220.5h1M1311 221.5h1M1310 222.5h1M1309 223.5h1M1308 224.5h1M1308 225.5h1M1307 226.5h1M1306 227.5h1M1306 228.5h1M1305 229.5h1M1304 230.5h1M1303 231.5h1M1303 232.5h1M1302 233.5h1M1301 234.5h1M1300 235.5h1M1300 236.5h1M1299 237.5h1M1298 238.5h1M1297 239.5h1M1296 240.5h1M1296 241.5h1M1295 242.5h1M1294 243.5h1M1293 244.5h1M1292 245.5h1M1291 246.5h1M1291 247.5h1M1290 248.5h1M1289 249.5h1M1288 250.5h1M1287 251.5h1M1286 252.5h1M1286 253.5h1M1285 254.5h1M1284 255.5h1M1283 256.5h1M1282 257.5h1M1281 258.5h1M1280 259.5h1M1279 260.5h1M1278 261.5h1M1277 262.5h1M1276 263.5h1M1274 264.5h2M1273 265.5h1M1272 266.5h1M1271 267.5h1M1270 268.5h1M1269 269.5h1M1268 270.5h1M1267 271.5h1M1266 272.5h1M1265 273.5h1M1264 274.5h1M1262 275.5h2M1261 276.5h1M1260 277.5h1M1259 278.5h1M1258 279.5h1M1257 280.5h1M1256 281.5h1M1254 282.5h2M1253 283.5h1M1252 284.5h1M1250 285.5h2M1248 286.5h2M1245 287.5h3M1242 288.5h3M1240 289.5h2M1237 290.5h3M1235 291.5h2M1233 292.5h2M1231 293.5h2M1229 294.5h2M1228 295.5h1M1226 296.5h2M1224 297.5h2M1222 298.5h2M1220 299.5h2M1219 300.5h1M1218 301.5h1M1217 302.5h1M1216 303.5h1M1215 304.5h1M1214 305.5h1M1213 306.5h1M1212 307.5h1M1210 308.5h2M1209 309.5h1M1208 310.5h1M1207 311.5h1M1206 312.5h1M1205 313.5h1M1204 314.5h1M1203 315.5h1M1202 316.5h1M1201 317.5h1M1200 318.5h1M1199 319.5h1M1198 320.5h1M1197 321.5h1M1196 322.5h1M1194 323.5h2M1193 324.5h1M1192 325.5h1M1191 326.5h1M1190 327.5h1M1189 328.5h1M1188 329.5h1M1187 330.5h1M1186 331.5h1M1185 332.5h1M1184 333.5h1M1182 334.5h2M1181 335.5h1M1180 336.5h1M1179 337.5h1M1178 338.5h1M1177 339.5h1M1176 340.5h1M1174 341.5h2M1173 342.5h1M1172 343.5h1M1171 344.5h1M1169 345.5h2M1168 346.5h1M1166 347.5h2M1165 348.5h1M1164 349.5h1M1162 350.5h2M1161 351.5h1M1159 352.5h2M1158 353.5h1M1156 354.5h2M1154 355.5h2M1152 356.5h2M1149 357.5h3M1146 358.5h3M1144 359.5h2M1141 360.5h3M1139 361.5h2M1137 362.5h2M1135 363.5h2M1133 364.5h2M1132 365.5h1M1130 366.5h2M1128 367.5h2M1126 368.5h2M1124 369.5h2M1123 370.5h1M1121 371.5h2M1119 372.5h2M1117 373.5h2M1116 374.5h1M1114 375.5h2M1112 376.5h2M1110 377.5h2M1108 378.5h2M1107 379.5h1M1106 380.5h1M1104 381.5h2M1103 382.5h1M1102 383.5h1M1101 384.5h1M1100 385.5h1M1098 386.5h2M1097 387.5h1M1096 388.5h1M1095 389.5h1M1093 390.5h2M1092 391.5h1M1091 392.5h1M1090 393.5h1M1088 394.5h2M1087 395.5h1M1086 396.5h1M1085 397.5h1M1084 398.5h1M1082 399.5h2M1081 400.5h1M1080 401.5h1M1079 402.5h1M1077 403.5h2M1076 404.5h1M1075 405.5h1M1074 406.5h1M1073 407.5h1M1072 408.5h1M1071 409.5h1M1070 410.5h1M851 411.5h21M1069 411.5h1M849 412.5h2M872 412.5h8M1068 412.5h1M847 413.5h2M880 413.5h8M1067 413.5h1M845 414.5h2M888 414.5h8M1067 414.5h1M844 415.5h1M896 415.5h6M1066 415.5h1M842 416.5h2M902 416.5h6M1065 416.5h1M840 417.5h2M908 417.5h5M1064 417.5h1M838 418.5h2M913 418.5h4M1008 418.5h4M1063 418.5h1M836 419.5h2M917 419.5h3M1000 419.5h8M1012 419.5h2M1062 419.5h1M834 420.5h2M920 420.5h4M988 420.5h12M1014 420.5h1M1061 420.5h1M832 421.5h2M924 421.5h3M977 421.5h11M1015 421.5h2M1060 421.5h1M829 422.5h3M927 422.5h3M972 422.5h5M1017 422.5h1M1059 422.5h1M826 423.5h3M930 423.5h26M966 423.5h6M1018 423.5h2M1057 423.5h2M824 424.5h2M956 424.5h10M1020 424.5h1M1056 424.5h1M821 425.5h3M1021 425.5h1M1054 425.5h2M819 426.5h2M1022 426.5h2M1052 426.5h2M818 427.5h1M1024 427.5h1M1051 427.5h1M816 428.5h2M1025 428.5h2M1049 428.5h2M815 429.5h1M1027 429.5h3M1048 429.5h1M814 430.5h1M1030 430.5h6M1046 430.5h2M813 431.5h1M1036 431.5h5M1044 431.5h2M812 432.5h1M1041 432.5h3M810 433.5h2M809 434.5h1M808 435.5h1M807 436.5h1M805 437.5h2M804 438.5h1M803 439.5h1M802 440.5h1M800 441.5h2M799 442.5h1M798 443.5h1M797 444.5h1M796 445.5h1M794 446.5h2M793 447.5h1M792 448.5h1M791 449.5h1M789 450.5h2M788 451.5h1M787 452.5h1M785 453.5h2M784 454.5h1M782 455.5h2M781 456.5h1M780 457.5h1M778 458.5h2M777 459.5h1M775 460.5h2M774 461.5h1M772 462.5h2M771 463.5h1M770 464.5h1M768 465.5h2M767 466.5h1M766 467.5h1M764 468.5h2M763 469.5h1M762 470.5h1M760 471.5h2M759 472.5h1M758 473.5h1M756 474.5h2M754 475.5h2M750 476.5h4M746 477.5h4M742 478.5h4M738 479.5h4M736 480.5h2M733 481.5h3M730 482.5h3M728 483.5h2M725 484.5h3M723 485.5h2M722 486.5h1M720 487.5h2M719 488.5h1M718 489.5h1M716 490.5h2M715 491.5h1M714 492.5h1M712 493.5h2M711 494.5h1M710 495.5h1M708 496.5h2M706 497.5h2M704 498.5h2M701 499.5h3M467 500.5h35M698 500.5h3M465 501.5h2M502 501.5h6M696 501.5h2M464 502.5h1M508 502.5h5M693 502.5h3M462 503.5h2M513 503.5h7M691 503.5h2M460 504.5h2M520 504.5h8M689 504.5h2M459 505.5h1M528 505.5h4M687 505.5h2M457 506.5h2M532 506.5h2M685 506.5h2M456 507.5h1M534 507.5h1M683 507.5h2M454 508.5h2M535 508.5h1M681 508.5h2M452 509.5h2M536 509.5h2M679 509.5h2M451 510.5h1M538 510.5h1M677 510.5h2M449 511.5h2M539 511.5h1M674 511.5h3M448 512.5h1M540 512.5h2M670 512.5h4M446 513.5h2M542 513.5h1M666 513.5h4M444 514.5h2M543 514.5h1M662 514.5h4M443 515.5h1M544 515.5h2M659 515.5h3M441 516.5h2M546 516.5h1M657 516.5h2M440 517.5h1M547 517.5h9M655 517.5h2M438 518.5h2M556 518.5h10M653 518.5h2M436 519.5h2M566 519.5h4M652 519.5h1M300 520.5h12M434 520.5h2M570 520.5h4M650 520.5h2M290 521.5h10M312 521.5h8M432 521.5h2M574 521.5h4M648 521.5h2M288 522.5h2M320 522.5h6M429 522.5h3M578 522.5h6M646 522.5h2M286 523.5h2M326 523.5h4M426 523.5h3M584 523.5h8M644 523.5h2M284 524.5h2M330 524.5h4M424 524.5h2M592 524.5h24M640 524.5h4M281 525.5h3M334 525.5h4M421 525.5h3M616 525.5h8M632 525.5h8M279 526.5h2M338 526.5h6M417 526.5h4M624 526.5h8M277 527.5h2M344 527.5h8M412 527.5h5M275 528.5h2M352 528.5h8M406 528.5h6M273 529.5h2M360 529.5h8M380 529.5h26M272 530.5h1M368 530.5h12M270 531.5h2M268 532.5h2M267 533.5h1M265 534.5h2M264 535.5h1M262 536.5h2M260 537.5h2M259 538.5h1M258 539.5h1M256 540.5h2M255 541.5h1M254 542.5h1M252 543.5h2M251 544.5h1M250 545.5h1M208 546.5h8M248 546.5h2M200 547.5h8M216 547.5h8M247 547.5h1M192 548.5h8M224 548.5h8M246 548.5h1M184 549.5h8M232 549.5h8M244 549.5h2M177 550.5h7M240 550.5h4M172 551.5h5M166 552.5h6M163 553.5h3M161 554.5h2M159 555.5h2M157 556.5h2M155 557.5h2M153 558.5h2M151 559.5h2M149 560.5h2M146 561.5h3M144 562.5h2M142 563.5h2M32 564.5h6M140 564.5h2M24 565.5h8M38 565.5h6M137 565.5h3M16 566.5h8M44 566.5h5M135 566.5h2M8 567.5h8M49 567.5h4M133 567.5h2M3 568.5h5M53 568.5h2M130 568.5h3M55 569.5h2M126 569.5h4M57 570.5h2M122 570.5h4M59 571.5h2M118 571.5h4M61 572.5h2M113 572.5h5M63 573.5h2M108 573.5h5M65 574.5h2M102 574.5h6M67 575.5h9M92 575.5h10M76 576.5h16" fill="none" stroke="#3CB371" stroke-width="1" shape-rendering="crispEdges"/>
<g shape-rendering="crispEdges">
<rect x="8" y="99" width="1857" height="1" fill="#FF0000"/>
<rect x="3.5" y="97.5" width="4" height="4" fill="#FFFFF0" stroke="#FF0000" stroke-width="1"/>
<rect x="1865.5" y="97.5" width="4" height="4" fill="#FFFFF0" stroke="#FF0000" stroke-width="1"/>
<rect x="8" y="134" width="1857" height="1" fill="#FF0000"/>
<rect x="3.5" y="132.5" width="4" height="4" fill="#FFFFF0" stroke="#FF0000" stroke-width="1"/>
<rect x="1865.5" y="132.5" width="4" height="4" fill="#FFFFF0" stroke="#FF0000" stroke-width="1"/>
<rect x="8" y="181" width="1857" height="1" fill="#FF0000"/>
<rect x="3.5" y="179.5" width="4" height="4" fill="#FFFFF0" stroke="#FF0000" stroke-width="1"/>
<rect x="1865.5" y="179.5" width="4" height="4" fill="#FFFFF0" stroke="#FF0000" stroke-width="1"/>
<rect x="8" y="226" width="1857" height="1" fill="#FF0000"/>
<rect x="3.5" y="224.5" width="4" height="4" fill="#FFFFF0" stroke="#FF0000" stroke-width="1"/>
<rect x="1865.5" y="224.5" width="4" height="4" fill="#FFFFF0" stroke="#FF0000" stroke-width="1"/>
</g>
<g shape-rendering="crispEdges">
<rect x="3" y="713" width="1" height="12" fill="#FF0000"/>
<rect x="18" y="711" width="2" height="14" fill="#FF0000"/>
<rect x="34" y="711" width="2" height="14" fill="#FF0000"/>
<rect x="50" y="703" width="2" height="22" fill="#FF0000"/>
<rect x="66" y="692" width="2" height="33" fill="#FF0000"/>
<rect x="82" y="688" width="2" height="37" fill="#FF0000"/>
<rect x="98" y="688" width="2" height="37" fill="#FF0000"/>
<rect x="114" y="692" width="2" height="33" fill="#FF0000"/>
<rect x="130" y="694" width="2" height="31" fill="#FF0000"/>
<rect x="146" y="701" width="2" height="24" fill="#FF0000"/>
<rect x="162" y="719" width="2" height="6" fill="#FF0000"/>
<rect x="178" y="725" width="2" height="9" fill="#008000"/>
<rect x="194" y="725" width="2" height="22" fill="#008000"/>
<rect x="210" y="725" width="2" height="29" fill="#008000"/>
<rect x="226" y="725" width="2" height="37" fill="#008000"/>
<rect x="242" y="725" width="2" height="45" fill="#008000"/>
<rect x="258" y="725" width="2" height="39" fill="#008000"/>
<rect x="274" y="725" width="2" height="32" fill="#008000"/>
<rect x="290" y="725" width="2" height="25" fill="#008000"/>
<rect x="306" y="725" width="2" height="17" fill="#008000"/>
<rect x="322" y="725" width="2" height="15" fill="#008000"/>
<rect x="338" y="725" width="2" height="16" fill="#008000"/>
<rect x="354" y="725" width="2" height="12" fill="#008000"/>
<rect x="370" y="725" width="2" height="10" fill="#008000"/>
<rect x="386" y="725" width="2" height="7" fill="#008000"/>
<rect x="402" y="725" width="2" height="7" fill="#008000"/>
<rect x="418" y="725" width="2" height="4" fill="#008000"/>
<rect x="434" y="721" width="2" height="4" fill="#FF0000"/>
<rect x="450" y="721" width="2" height="4" fill="#FF0000"/>
<rect x="466" y="721" width="2" height="4" fill="#FF0000"/>
<rect x="482" y="720" width="2" height="5" fill="#FF0000"/>
<rect x="498" y="719" width="2" height="6" fill="#FF0000"/>
<rect x="514" y="715" width="2" height="10" fill="#FF0000"/>
<rect x="530" y="712" width="2" height="13" fill="#FF0000"/>
<rect x="546" y="701" width="2" height="24" fill="#FF0000"/>
<rect x="562" y="694" width="2" height="31" fill="#FF0000"/>
<rect x="578" y="691" width="2" height="34" fill="#FF0000"/>
<rect x="594" y="692" width="2" height="33" fill="#FF0000"/>
<rect x="610" y="696" width="2" height="29" fill="#FF0000"/>
<rect x="626" y="698" width="2" height="27" fill="#FF0000"/>
<rect x="642" y="699" width="2" height="26" fill="#FF0000"/>
<rect x="658" y="706" width="2" height="19" fill="#FF0000"/>
<rect x="674" y="710" width="2" height="15" fill="#FF0000"/>
<rect x="690" y="715" width="2" height="10" fill="#FF0000"/>
<rect x="706" y="717" width="2" height="8" fill="#FF0000"/>
<rect x="722" y="724" width="2" height="1" fill="#FF0000"/>
<rect x="738" y="725" width="2" height="14" fill="#008000"/>
<rect x="754" y="725" width="2" height="24" fill="#008000"/>
<rect x="770" y="725" width="2" height="27" fill="#008000"/>
<rect x="786" y="725" width="2" height="26" fill="#008000"/>
<rect x="802" y="725" width="2" height="19" fill="#008000"/>
<rect x="818" y="725" width="2" height="9" fill="#008000"/>
<rect x="834" y="722" width="2" height="3" fill="#FF0000"/>
<rect x="850" y="715" width="2" height="10" fill="#FF0000"/>
<rect x="866" y="712" width="2" height="13" fill="#FF0000"/>
<rect x="882" y="710" width="2" height="15" fill="#FF0000"/>
<rect x="898" y="709" width="2" height="16" fill="#FF0000"/>
<rect x="914" y="704" width="2" height="21" fill="#FF0000"/>
<rect x="930" y="700" width="2" height="25" fill="#FF0000"/>
<rect x="946" y="704" width="2" height="21" fill="#FF0000"/>
<rect x="962" y="709" width="2" height="16" fill="#FF0000"/>
<rect x="978" y="717" width="2" height="8" fill="#FF0000"/>
<rect x="994" y="721" width="2" height="4" fill="#FF0000"/>
<rect x="1010" y="723" width="2" height="2" fill="#FF0000"/>
<rect x="1026" y="711" width="2" height="14" fill="#FF0000"/>
<rect x="1042" y="703" width="2" height="22" fill="#FF0000"/>
<rect x="1058" y="699" width="2" height="26" fill="#FF0000"/>
<rect x="1074" y="698" width="2" height="27" fill="#FF0000"/>
<rect x="1090" y="697" width="2" height="28" fill="#FF0000"/>
<rect x="1106" y="697" width="2" height="28" fill="#FF0000"/>
<rect x="1122" y="698" width="2" height="27" fill="#FF0000"/>
<rect x="1138" y="705" width="2" height="20" fill="#FF0000"/>
<rect x="1154" y="711" width="2" height="14" fill="#FF0000"/>
<rect x="1170" y="719" width="2" height="6" fill="#FF0000"/>
<rect x="1186" y="724" width="2" height="1" fill="#FF0000"/>
<rect x="1202" y="725" width="2" height="7" fill="#008000"/>
<rect x="1218" y="725" width="2" height="18" fill="#008000"/>
<rect x="1234" y="725" width="2" height="24" fill="#008000"/>
<rect x="1250" y="725" width="2" height="25" fill="#008000"/>
<rect x="1266" y="725" width="2" height="29" fill="#008000"/>
<rect x="1282" y="725" width="2" height="31" fill="#008000"/>
<rect x="1298" y="725" width="2" height="37" fill="#008000"/>
<rect x="1314" y="725" width="2" height="38" fill="#008000"/>
<rect x="1330" y="725" width="2" height="36" fill="#008000"/>
<rect x="1346" y="725" width="2" height="34" fill="#008000"/>
<rect x="1362" y="725" width="2" height="31" fill="#008000"/>
<rect x="1378" y="725" width="2" height="35" fill="#008000"/>
<rect x="1394" y="725" width="2" height="34" fill="#008000"/>
<rect x="1410" y="725" width="2" height="28" fill="#008000"/>
<rect x="1426" y="725" width="2" height="21" fill="#008000"/>
<rect x="1442" y="725" width="2" height="16" fill="#008000"/>
<rect x="1458" y="725" width="2" height="12" fill="#008000"/>
</g>
<path d="M1122 617.5h36M1118 618.5h4M1158 618.5h6M1114 619.5h4M1164 619.5h5M1110 620.5h4M1169 620.5h7M1106 621.5h4M1176 621.5h8M1102 622.5h4M1184 622.5h5M1098 623.5h4M1189 623.5h3M1094 624.5h4M1192 624.5h4M1090 625.5h4M1196 625.5h3M1087 626.5h3M1199 626.5h3M1084 627.5h3M1202 627.5h2M1080 628.5h4M1204 628.5h2M1077 629.5h3M1206 629.5h2M1073 630.5h4M1208 630.5h2M1068 631.5h5M1210 631.5h2M1062 632.5h6M1212 632.5h1M1058 633.5h4M1213 633.5h2M1056 634.5h2M1215 634.5h2M1054 635.5h2M1217 635.5h2M1052 636.5h2M1219 636.5h2M1049 637.5h3M1221 637.5h3M1047 638.5h2M1224 638.5h4M1045 639.5h2M1228 639.5h3M1043 640.5h2M1231 640.5h3M1041 641.5h2M1234 641.5h3M1040 642.5h1M1237 642.5h3M1038 643.5h2M1240 643.5h4M1036 644.5h2M1244 644.5h3M1035 645.5h1M1247 645.5h3M1033 646.5h2M1250 646.5h3M1032 647.5h1M1253 647.5h2M1030 648.5h2M1255 648.5h2M1028 649.5h2M1257 649.5h3M1027 650.5h1M1260 650.5h2M1026 651.5h1M1262 651.5h2M1024 652.5h2M1264 652.5h2M1023 653.5h1M1266 653.5h3M1022 654.5h1M1269 654.5h3M1021 655.5h1M1272 655.5h4M1020 656.5h1M1276 656.5h3M940 657.5h16M1018 657.5h2M1279 657.5h3M930 658.5h10M956 658.5h10M1017 658.5h1M1282 658.5h2M928 659.5h2M966 659.5h6M1016 659.5h1M1284 659.5h2M926 660.5h2M972 660.5h5M1015 660.5h1M1286 660.5h2M130 661.5h10M924 661.5h2M977 661.5h11M1013 661.5h2M1288 661.5h1M126 662.5h4M140 662.5h8M921 662.5h3M988 662.5h16M1012 662.5h1M1289 662.5h2M122 663.5h4M148 663.5h2M919 663.5h2M1004 663.5h8M1291 663.5h1M118 664.5h4M150 664.5h2M917 664.5h2M1292 664.5h2M114 665.5h4M152 665.5h2M915 665.5h2M1294 665.5h2M110 666.5h4M154 666.5h2M704 666.5h5M913 666.5h2M1296 666.5h1M106 667.5h4M156 667.5h1M696 667.5h8M709 667.5h3M911 667.5h2M1297 667.5h2M102 668.5h4M157 668.5h2M668 668.5h28M712 668.5h4M909 668.5h2M1299 668.5h2M98 669.5h4M159 669.5h2M642 669.5h26M716 669.5h3M907 669.5h2M1301 669.5h2M96 670.5h2M161 670.5h2M639 670.5h3M719 670.5h3M905 670.5h2M1303 670.5h2M93 671.5h3M163 671.5h1M636 671.5h3M722 671.5h2M903 671.5h2M1305 671.5h2M90 672.5h3M164 672.5h2M632 672.5h4M724 672.5h2M901 672.5h2M1307 672.5h2M88 673.5h2M166 673.5h2M629 673.5h3M726 673.5h1M897 673.5h4M1309 673.5h2M85 674.5h3M168 674.5h2M626 674.5h3M727 674.5h2M892 674.5h5M1311 674.5h2M83 675.5h2M170 675.5h2M622 675.5h4M729 675.5h1M886 675.5h6M1313 675.5h2M81 676.5h2M172 676.5h1M618 676.5h4M730 676.5h2M880 676.5h6M1315 676.5h3M79 677.5h2M173 677.5h2M614 677.5h4M732 677.5h1M872 677.5h8M1318 677.5h4M77 678.5h2M175 678.5h2M608 678.5h6M733 678.5h1M864 678.5h8M1322 678.5h4M75 679.5h2M177 679.5h2M600 679.5h8M734 679.5h2M856 679.5h8M1326 679.5h4M73 680.5h2M179 680.5h1M593 680.5h7M736 680.5h1M849 680.5h7M1330 680.5h3M71 681.5h2M180 681.5h2M588 681.5h5M737 681.5h2M844 681.5h5M1333 681.5h3M69 682.5h2M182 682.5h2M582 682.5h6M739 682.5h2M838 682.5h6M1336 682.5h4M67 683.5h2M184 683.5h2M578 683.5h4M741 683.5h2M834 683.5h4M1340 683.5h3M66 684.5h1M186 684.5h2M576 684.5h2M743 684.5h2M832 684.5h2M1343 684.5h3M64 685.5h2M188 685.5h1M574 685.5h2M745 685.5h2M830 685.5h2M1346 685.5h4M63 686.5h1M189 686.5h2M572 686.5h2M747 686.5h2M828 686.5h2M1350 686.5h4M62 687.5h1M191 687.5h2M569 687.5h3M749 687.5h2M825 687.5h3M1354 687.5h4M61 688.5h1M193 688.5h2M567 688.5h2M751 688.5h2M823 688.5h2M1358 688.5h4M60 689.5h1M195 689.5h2M565 689.5h2M753 689.5h2M821 689.5h2M1362 689.5h2M58 690.5h2M197 690.5h2M563 690.5h2M755 690.5h2M818 690.5h3M1364 690.5h2M57 691.5h1M199 691.5h2M561 691.5h2M757 691.5h3M816 691.5h2M1366 691.5h2M56 692.5h1M201 692.5h3M560 692.5h1M760 692.5h2M813 692.5h3M1368 692.5h2M55 693.5h1M204 693.5h2M558 693.5h2M762 693.5h3M810 693.5h3M1370 693.5h2M53 694.5h2M206 694.5h2M556 694.5h2M765 694.5h3M808 694.5h2M1372 694.5h1M52 695.5h1M208 695.5h2M555 695.5h1M768 695.5h2M805 695.5h3M1373 695.5h2M51 696.5h1M210 696.5h3M553 696.5h2M770 696.5h6M800 696.5h5M1375 696.5h2M49 697.5h2M213 697.5h2M552 697.5h1M776 697.5h8M792 697.5h8M1377 697.5h2M47 698.5h2M215 698.5h2M550 698.5h2M784 698.5h8M1379 698.5h2M45 699.5h2M217 699.5h2M548 699.5h2M1381 699.5h2M43 700.5h2M219 700.5h2M547 700.5h1M1383 700.5h2M41 701.5h2M221 701.5h2M546 701.5h1M1385 701.5h3M39 702.5h2M223 702.5h2M544 702.5h2M1388 702.5h2M37 703.5h2M225 703.5h2M543 703.5h1M1390 703.5h2M32 704.5h5M227 704.5h1M542 704.5h1M1392 704.5h2M24 705.5h8M228 705.5h2M540 705.5h2M1394 705.5h6M17 706.5h7M230 706.5h1M539 706.5h1M1400 706.5h8M12 707.5h5M231 707.5h1M538 707.5h1M1408 707.5h52M6 708.5h6M232 708.5h2M536 708.5h2M3 709.5h3M234 709.5h1M535 709.5h1M235 710.5h1M534 710.5h1M236 711.5h2M532 711.5h2M238 712.5h1M529 712.5h3M239 713.5h1M524 713.5h5M240 714.5h2M518 714.5h6M242 715.5h1M514 715.5h4M243 716.5h5M511 716.5h3M248 717.5h8M508 717.5h3M256 718.5h12M504 718.5h4M268 719.5h16M300 719.5h10M501 719.5h3M284 720.5h16M310 720.5h6M496 720.5h5M316 721.5h5M488 721.5h8M321 722.5h4M476 722.5h12M325 723.5h3M434 723.5h42M328 724.5h4M430 724.5h4M332 725.5h3M426 725.5h4M335 726.5h3M422 726.5h4M338 727.5h10M416 727.5h6M348 728.5h16M380 728.5h16M408 728.5h8M364 729.5h16M396 729.5h12" fill="none" stroke="#0000FF" stroke-width="1" shape-rendering="crispEdges"/>
<path d="M1212 621.5h12M1196 622.5h36M1180 623.5h32M1224 623.5h14M1169 624.5h27M1232 624.5h12M1164 625.5h16M1238 625.5h11M1158 626.5h11M1244 626.5h10M1154 627.5h10M1249 627.5h9M1151 628.5h7M1254 628.5h8M1148 629.5h6M1258 629.5h8M1144 630.5h7M1262 630.5h7M1141 631.5h7M1266 631.5h6M1138 632.5h6M1269 632.5h7M1135 633.5h6M1272 633.5h7M1132 634.5h6M1276 634.5h6M1128 635.5h7M1279 635.5h6M1125 636.5h7M1282 636.5h6M1122 637.5h6M1285 637.5h7M1119 638.5h6M1288 638.5h7M1116 639.5h6M1292 639.5h6M1112 640.5h7M1295 640.5h6M1109 641.5h7M1298 641.5h5M1106 642.5h6M1301 642.5h4M1102 643.5h7M1303 643.5h5M1098 644.5h8M1305 644.5h5M1094 645.5h8M1308 645.5h4M1089 646.5h9M1310 646.5h4M1084 647.5h10M1312 647.5h5M1078 648.5h11M1314 648.5h6M1074 649.5h10M1317 649.5h5M1070 650.5h8M1320 650.5h5M1066 651.5h8M1322 651.5h6M1062 652.5h8M1325 652.5h5M1057 653.5h9M1328 653.5h5M1052 654.5h10M1330 654.5h5M1046 655.5h11M1333 655.5h4M1042 656.5h10M1335 656.5h5M1038 657.5h8M1337 657.5h5M1034 658.5h8M1340 658.5h4M1030 659.5h8M1342 659.5h4M1025 660.5h9M1344 660.5h5M1020 661.5h10M1346 661.5h6M1014 662.5h11M1349 662.5h5M1004 663.5h16M1352 663.5h5M993 664.5h21M1354 664.5h6M988 665.5h16M1357 665.5h5M982 666.5h11M1360 666.5h5M977 667.5h11M1362 667.5h5M972 668.5h10M1365 668.5h4M966 669.5h11M1367 669.5h5M961 670.5h11M1369 670.5h5M716 671.5h32M956 671.5h10M1372 671.5h4M704 672.5h54M950 672.5h11M1374 672.5h4M177 673.5h37M696 673.5h20M748 673.5h14M946 673.5h10M1376 673.5h5M172 674.5h46M690 674.5h14M758 674.5h8M943 674.5h7M1378 674.5h6M166 675.5h11M214 675.5h8M686 675.5h10M762 675.5h8M940 675.5h6M1381 675.5h5M162 676.5h10M218 676.5h8M682 676.5h8M766 676.5h10M936 676.5h7M1384 676.5h5M158 677.5h8M222 677.5h7M678 677.5h8M770 677.5h14M933 677.5h7M1386 677.5h6M154 678.5h8M226 678.5h6M674 678.5h8M776 678.5h14M929 678.5h7M1389 678.5h5M150 679.5h8M229 679.5h7M671 679.5h7M784 679.5h12M924 679.5h9M1392 679.5h5M146 680.5h8M232 680.5h7M668 680.5h6M790 680.5h11M918 680.5h11M1394 680.5h6M143 681.5h7M236 681.5h6M664 681.5h7M796 681.5h12M914 681.5h10M1397 681.5h5M140 682.5h6M239 682.5h6M661 682.5h7M801 682.5h15M910 682.5h8M1400 682.5h5M136 683.5h7M242 683.5h6M658 683.5h6M808 683.5h16M906 683.5h8M1402 683.5h6M133 684.5h7M245 684.5h5M656 684.5h5M816 684.5h16M902 684.5h8M1405 684.5h5M130 685.5h6M248 685.5h5M653 685.5h5M824 685.5h20M896 685.5h10M1408 685.5h5M128 686.5h5M250 686.5h6M650 686.5h6M832 686.5h28M888 686.5h14M1410 686.5h6M125 687.5h5M253 687.5h5M648 687.5h5M844 687.5h52M1413 687.5h7M122 688.5h6M256 688.5h5M645 688.5h5M860 688.5h28M1416 688.5h7M120 689.5h5M258 689.5h6M642 689.5h6M1420 689.5h6M117 690.5h5M261 690.5h5M640 690.5h5M1423 690.5h7M114 691.5h6M264 691.5h5M637 691.5h5M1426 691.5h8M112 692.5h5M266 692.5h6M634 692.5h6M1430 692.5h8M110 693.5h4M269 693.5h5M632 693.5h5M1434 693.5h8M108 694.5h4M272 694.5h5M629 694.5h5M1438 694.5h8M105 695.5h5M274 695.5h5M626 695.5h6M1442 695.5h8M103 696.5h5M277 696.5h4M622 696.5h7M1446 696.5h8M101 697.5h4M279 697.5h5M618 697.5h8M1450 697.5h8M98 698.5h5M281 698.5h5M614 698.5h8M1454 698.5h6M95 699.5h6M284 699.5h4M610 699.5h8M1458 699.5h2M92 700.5h6M286 700.5h4M607 700.5h7M88 701.5h7M288 701.5h5M604 701.5h6M85 702.5h7M290 702.5h6M600 702.5h7M82 703.5h6M293 703.5h7M597 703.5h7M79 704.5h6M296 704.5h7M594 704.5h6M76 705.5h6M300 705.5h6M591 705.5h6M72 706.5h7M303 706.5h6M588 706.5h6M69 707.5h7M306 707.5h6M584 707.5h7M65 708.5h7M309 708.5h7M581 708.5h7M60 709.5h9M312 709.5h7M578 709.5h6M54 710.5h11M316 710.5h6M575 710.5h6M49 711.5h11M319 711.5h7M572 711.5h6M44 712.5h10M322 712.5h8M568 712.5h7M38 713.5h11M326 713.5h8M565 713.5h7M32 714.5h12M330 714.5h8M562 714.5h6M24 715.5h14M334 715.5h8M558 715.5h7M16 716.5h16M338 716.5h10M554 716.5h8M8 717.5h16M342 717.5h11M550 717.5h8M3 718.5h13M348 718.5h10M546 718.5h8M3 719.5h5M353 719.5h11M542 719.5h8M358 720.5h11M538 720.5h8M364 721.5h16M534 721.5h8M369 722.5h27M528 722.5h10M380 723.5h32M520 723.5h14M396 724.5h32M508 724.5h20M412 725.5h108M428 726.5h80" fill="none" stroke="#FF0000" stroke-width="1" shape-rendering="crispEdges"/>
<text x="7.2" y="14" fill="#000" stroke="#000" stroke-width="0.2" textLength="54" lengthAdjust="spacingAndGlyphs" xml:space="preserve">GBPUSD,H4</text>
<text x="67.7" y="14" fill="#000" stroke="#000" stroke-width="0.2" textLength="32.4" lengthAdjust="spacingAndGlyphs" xml:space="preserve">1.27676</text>
<text x="103.4" y="14" fill="#000" stroke="#000" stroke-width="0.2" textLength="32.4" lengthAdjust="spacingAndGlyphs" xml:space="preserve">1.27727</text>
<text x="139.6" y="14" fill="#000" stroke="#000" stroke-width="0.2" textLength="32.4" lengthAdjust="spacingAndGlyphs" xml:space="preserve">1.27660</text>
<text x="175.2" y="14" fill="#000" stroke="#000" stroke-width="0.2" textLength="32.4" lengthAdjust="spacingAndGlyphs" xml:space="preserve">1.27689</text>
<text x="7.6" y="621" fill="#000" stroke="#000" stroke-width="0.2" textLength="65" lengthAdjust="spacingAndGlyphs" xml:space="preserve">MACD(12,26,9)</text>
<text x="76" y="621" fill="#000" stroke="#000" stroke-width="0.2" textLength="37.6" lengthAdjust="spacingAndGlyphs" xml:space="preserve">0.001139</text>
<text x="117.4" y="621" fill="#000" stroke="#000" stroke-width="0.2" textLength="37.6" lengthAdjust="spacingAndGlyphs" xml:space="preserve">0.001659</text>
<text x="158.5" y="621" fill="#000" stroke="#000" stroke-width="0.2" textLength="37.6" lengthAdjust="spacingAndGlyphs" xml:space="preserve">0.000000</text>
<text x="198.8" y="621" fill="#000" stroke="#000" stroke-width="0.2" textLength="41.4" lengthAdjust="spacingAndGlyphs" xml:space="preserve">-0.000675</text>
<text x="1876.3" y="13" fill="#000" stroke="#000" stroke-width="0.2" textLength="32.5" lengthAdjust="spacingAndGlyphs" xml:space="preserve">1.29490</text>
<text x="1876.3" y="46" fill="#000" stroke="#000" stroke-width="0.2" textLength="32.5" lengthAdjust="spacingAndGlyphs" xml:space="preserve">1.29110</text>
<text x="1876.3" y="79" fill="#000" stroke="#000" stroke-width="0.2" textLength="32.5" lengthAdjust="spacingAndGlyphs" xml:space="preserve">1.28740</text>
<text x="1876.3" y="112" fill="#000" stroke="#000" stroke-width="0.2" textLength="32.5" lengthAdjust="spacingAndGlyphs" xml:space="preserve">1.28360</text>
<text x="1876.3" y="145" fill="#000" stroke="#000" stroke-width="0.2" textLength="32.5" lengthAdjust="spacingAndGlyphs" xml:space="preserve">1.27990</text>
<text x="1876.3" y="178" fill="#000" stroke="#000" stroke-width="0.2" textLength="32.5" lengthAdjust="spacingAndGlyphs" xml:space="preserve">1.27610</text>
<text x="1876.3" y="211" fill="#000" stroke="#000" stroke-width="0.2" textLength="32.5" lengthAdjust="spacingAndGlyphs" xml:space="preserve">1.27240</text>
<text x="1876.3" y="244" fill="#000" stroke="#000" stroke-width="0.2" textLength="32.5" lengthAdjust="spacingAndGlyphs" xml:space="preserve">1.26870</text>
<text x="1876.3" y="277" fill="#000" stroke="#000" stroke-width="0.2" textLength="32.5" lengthAdjust="spacingAndGlyphs" xml:space="preserve">1.26490</text>
<text x="1876.3" y="310" fill="#000" stroke="#000" stroke-width="0.2" textLength="32.5" lengthAdjust="spacingAndGlyphs" xml:space="preserve">1.26120</text>
<text x="1876.3" y="343" fill="#000" stroke="#000" stroke-width="0.2" textLength="32.5" lengthAdjust="spacingAndGlyphs" xml:space="preserve">1.25740</text>
<text x="1876.3" y="376" fill="#000" stroke="#000" stroke-width="0.2" textLength="32.5" lengthAdjust="spacingAndGlyphs" xml:space="preserve">1.25370</text>
<text x="1876.3" y="409" fill="#000" stroke="#000" stroke-width="0.2" textLength="32.5" lengthAdjust="spacingAndGlyphs" xml:space="preserve">1.24990</text>
<text x="1876.3" y="442" fill="#000" stroke="#000" stroke-width="0.2" textLength="32.5" lengthAdjust="spacingAndGlyphs" xml:space="preserve">1.24620</text>
<text x="1876.3" y="475" fill="#000" stroke="#000" stroke-width="0.2" textLength="32.5" lengthAdjust="spacingAndGlyphs" xml:space="preserve">1.24250</text>
<text x="1876.3" y="508" fill="#000" stroke="#000" stroke-width="0.2" textLength="32.5" lengthAdjust="spacingAndGlyphs" xml:space="preserve">1.23870</text>
<text x="1876.3" y="541" fill="#000" stroke="#000" stroke-width="0.2" textLength="32.5" lengthAdjust="spacingAndGlyphs" xml:space="preserve">1.23500</text>
<text x="1876.3" y="574" fill="#000" stroke="#000" stroke-width="0.2" textLength="32.5" lengthAdjust="spacingAndGlyphs" xml:space="preserve">1.23120</text>
<text x="1876.3" y="607" fill="#000" stroke="#000" stroke-width="0.2" textLength="32.5" lengthAdjust="spacingAndGlyphs" xml:space="preserve">1.22750</text>
<text x="1874" y="619" fill="#000" stroke="#000" stroke-width="0.2" textLength="37.5" lengthAdjust="spacingAndGlyphs" xml:space="preserve">0.007289</text>
<text x="1874.3" y="729" fill="#000" stroke="#000" stroke-width="0.2" textLength="17.5" lengthAdjust="spacingAndGlyphs" xml:space="preserve">0.00</text>
<text x="1874" y="773.8" fill="#000" stroke="#000" stroke-width="0.2" textLength="40.5" lengthAdjust="spacingAndGlyphs" xml:space="preserve">-0.003243</text>
<g shape-rendering="crispEdges">
<rect x="1872" y="93" width="41" height="11" fill="#FF0000"/>
<rect x="1872" y="128" width="41" height="11" fill="#FF0000"/>
<rect x="1872" y="175" width="41" height="11" fill="#FF0000"/>
<rect x="1872" y="220" width="41" height="11" fill="#FF0000"/>
<rect x="1872" y="163" width="41" height="11" fill="#000"/>
</g>
<text x="1876.5" y="102" fill="#fff" stroke="#fff" stroke-width="0.2" textLength="32" lengthAdjust="spacingAndGlyphs" xml:space="preserve">1.28471</text>
<text x="1876.5" y="137" fill="#fff" stroke="#fff" stroke-width="0.2" textLength="32" lengthAdjust="spacingAndGlyphs" xml:space="preserve">1.28067</text>
<text x="1876.5" y="184" fill="#fff" stroke="#fff" stroke-width="0.2" textLength="32" lengthAdjust="spacingAndGlyphs" xml:space="preserve">1.27540</text>
<text x="1876.5" y="229" fill="#fff" stroke="#fff" stroke-width="0.2" textLength="32" lengthAdjust="spacingAndGlyphs" xml:space="preserve">1.27022</text>
<text x="1876.5" y="172" fill="#fff" stroke="#fff" stroke-width="0.2" textLength="32" lengthAdjust="spacingAndGlyphs" xml:space="preserve">1.27689</text>
<text x="2.4" y="790" fill="#000" stroke="#000" stroke-width="0.2" textLength="44" lengthAdjust="spacingAndGlyphs" xml:space="preserve">1 Jun 2023</text>
<text x="66.4" y="790" fill="#000" stroke="#000" stroke-width="0.2" textLength="46.6" lengthAdjust="spacingAndGlyphs" xml:space="preserve">1 Jun 16:00</text>
<text x="130.4" y="790" fill="#000" stroke="#000" stroke-width="0.2" textLength="46.6" lengthAdjust="spacingAndGlyphs" xml:space="preserve">2 Jun 08:00</text>
<text x="194.4" y="790" fill="#000" stroke="#000" stroke-width="0.2" textLength="46.6" lengthAdjust="spacingAndGlyphs" xml:space="preserve">5 Jun 00:00</text>
<text x="258.4" y="790" fill="#000" stroke="#000" stroke-width="0.2" textLength="46.6" lengthAdjust="spacingAndGlyphs" xml:space="preserve">5 Jun 16:00</text>
<text x="322.4" y="790" fill="#000" stroke="#000" stroke-width="0.2" textLength="46.6" lengthAdjust="spacingAndGlyphs" xml:space="preserve">6 Jun 08:00</text>
<text x="386.4" y="790" fill="#000" stroke="#000" stroke-width="0.2" textLength="46.6" lengthAdjust="spacingAndGlyphs" xml:space="preserve">7 Jun 00:00</text>
<text x="450.4" y="790" fill="#000" stroke="#000" stroke-width="0.2" textLength="46.6" lengthAdjust="spacingAndGlyphs" xml:space="preserve">7 Jun 16:00</text>
<text x="514.4" y="790" fill="#000" stroke="#000" stroke-width="0.2" textLength="46.6" lengthAdjust="spacingAndGlyphs" xml:space="preserve">8 Jun 08:00</text>
<text x="578.4" y="790" fill="#000" stroke="#000" stroke-width="0.2" textLength="46.6" lengthAdjust="spacingAndGlyphs" xml:space="preserve">9 Jun 00:00</text>
<text x="642.4" y="790" fill="#000" stroke="#000" stroke-width="0.2" textLength="46.6" lengthAdjust="spacingAndGlyphs" xml:space="preserve">9 Jun 16:00</text>
<text x="706.2" y="790" fill="#000" stroke="#000" stroke-width="0.2" textLength="52.5" lengthAdjust="spacingAndGlyphs" xml:space="preserve">12 Jun 08:00</text>
<text x="770.2" y="790" fill="#000" stroke="#000" stroke-width="0.2" textLength="52.5" lengthAdjust="spacingAndGlyphs" xml:space="preserve">13 Jun 00:00</text>
<text x="834.2" y="790" fill="#000" stroke="#000" stroke-width="0.2" textLength="52.5" lengthAdjust="spacingAndGlyphs" xml:space="preserve">13 Jun 16:00</text>
<text x="898.2" y="790" fill="#000" stroke="#000" stroke-width="0.2" textLength="52.5" lengthAdjust="spacingAndGlyphs" xml:space="preserve">14 Jun 08:00</text>
<text x="962.2" y="790" fill="#000" stroke="#000" stroke-width="0.2" textLength="52.5" lengthAdjust="spacingAndGlyphs" xml:space="preserve">15 Jun 00:00</text>
<text x="1026.2" y="790" fill="#000" stroke="#000" stroke-width="0.2" textLength="52.5" lengthAdjust="spacingAndGlyphs" xml:space="preserve">15 Jun 16:00</text>
<text x="1090.2" y="790" fill="#000" stroke="#000" stroke-width="0.2" textLength="52.5" lengthAdjust="spacingAndGlyphs" xml:space="preserve">16 Jun 08:00</text>
<text x="1154.2" y="790" fill="#000" stroke="#000" stroke-width="0.2" textLength="52.5" lengthAdjust="spacingAndGlyphs" xml:space="preserve">19 Jun 00:00</text>
<text x="1218.2" y="790" fill="#000" stroke="#000" stroke-width="0.2" textLength="52.5" lengthAdjust="spacingAndGlyphs" xml:space="preserve">19 Jun 16:00</text>
<text x="1282.2" y="790" fill="#000" stroke="#000" stroke-width="0.2" textLength="52.5" lengthAdjust="spacingAndGlyphs" xml:space="preserve">20 Jun 08:00</text>
<text x="1346.2" y="790" fill="#000" stroke="#000" stroke-width="0.2" textLength="52.5" lengthAdjust="spacingAndGlyphs" xml:space="preserve">21 Jun 00:00</text>
<text x="1410.2" y="790" fill="#000" stroke="#000" stroke-width="0.2" textLength="52.5" lengthAdjust="spacingAndGlyphs" xml:space="preserve">21 Jun 16:00</text>
</svg>
</body></html>
